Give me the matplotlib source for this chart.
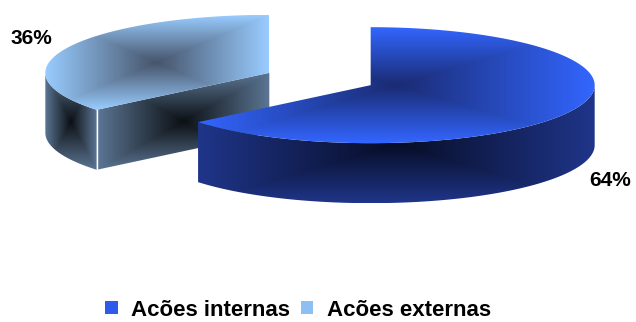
import numpy as np
import matplotlib
matplotlib.use("Agg")
from matplotlib import pyplot as plt
from matplotlib.patches import Polygon, Patch

plt.rcParams['font.family'] = ['Liberation Sans', 'DejaVu Sans']

# dados
categorias = ['Acões internas', 'Acões externas']
valores = [64, 36]
rotulos = ['64%', '36%']

# estilo (cores das faces: borda, centro)
cor_topo = [('#3366FF', '#1A2B72'), ('#99CCFF', '#46546A')]
cor_lado = [('#1F3589', '#070D26'), ('#5C7694', '#0C1014')]
cor_leg = ['#2F5BEA', '#8DBFF2']

# geometria em pixels
cx, cy = 320, 79
rx, ry = 224, 58
prof = 60
expl = 0.25

fig = plt.figure(figsize=(6.36, 3.22), dpi=100)
ax = fig.add_axes([0, 0, 1, 1])
ax.set_xlim(0, 636)
ax.set_ylim(322, 0)
ax.axis('off')


def arco(x0, y0, a0, a1, n=200):
    t = np.radians(np.linspace(a0, a1, n))
    return np.column_stack([x0 + rx*np.cos(t), y0 - ry*np.sin(t)])


def gradiente(verts, c_borda, c_meio, z, pot=1.0):
    poly = Polygon(verts, closed=True, fc='none', ec='none', zorder=z)
    ax.add_patch(poly)
    x0, y0 = verts.min(axis=0)
    x1, y1 = verts.max(axis=0)
    xx, yy = np.meshgrid(np.linspace(-1, 1, 300), np.linspace(-1, 1, 300))
    d = np.maximum(np.abs(xx), np.abs(yy)) ** pot
    cb = np.array(matplotlib.colors.to_rgb(c_borda))
    cm = np.array(matplotlib.colors.to_rgb(c_meio))
    img = cm + (cb - cm) * d[..., None]
    im = ax.imshow(img, extent=(x0, x1, y1, y0), origin='upper',
                   interpolation='bilinear', zorder=z, aspect='auto')
    im.set_clip_path(poly)


# angulos das fatias (inicio no topo, sentido horario)
inicio = 90.0
fatias = []
for v in valores:
    a1 = inicio
    a0 = inicio - 360.0 * v / sum(valores)
    fatias.append((a0, a1))
    inicio = a0

# desenha a externa primeiro (fica atras)
for i in [1, 0]:
    a0, a1 = fatias[i]
    if i == 1:
        a0, a1 = a0 + 360, a1 + 360
    meio = np.radians((a0 + a1) / 2)
    px = cx + expl*rx*np.cos(meio)
    py = cy - expl*ry*np.sin(meio)
    z = 2 if i == 1 else 6

    # parede radial visivel (corte da fatia externa)
    if i == 1:
        r = arco(px, py, a1, a1, 2)[0]
        parede = np.array([[px, py], r, [r[0], r[1]+prof], [px, py+prof]])
        gradiente(parede, cor_lado[i][0], cor_lado[i][1], z)

    # parede externa (so a parte da frente)
    if i == 1:
        b0, b1 = 180, a1
    else:
        b0, b1 = a0, 0
    borda = arco(px, py, b0, b1)
    lado = np.vstack([borda, borda[::-1] + [0, prof]])
    gradiente(lado, cor_lado[i][0], cor_lado[i][1], z + 1)

    if i == 1:
        r = arco(px, py, a1, a1, 2)[0]
        ax.plot([r[0], r[0]], [r[1], r[1]+prof], color='white', lw=1, zorder=z + 2)

    # topo
    topo = np.vstack([[px, py], arco(px, py, a0, a1)])
    gradiente(topo, cor_topo[i][0], cor_topo[i][1], z + 2)

# rotulos de porcentagem
ax.text(610, 180, rotulos[0], fontsize=15, fontweight='bold', ha='center', va='center')
ax.text(31, 38, rotulos[1], fontsize=15, fontweight='bold', ha='center', va='center')

alcas = [Patch(facecolor=c, edgecolor='none') for c in cor_leg]
ax.legend(alcas, categorias, loc='center', bbox_to_anchor=(298/636, 1 - 310/322),
          ncol=2, frameon=False, prop={'weight': 'bold', 'size': 16},
          handlelength=0.55, handleheight=0.55, handletextpad=0.6,
          columnspacing=0.5, borderpad=0)

fig.savefig('out.png', dpi=100)
